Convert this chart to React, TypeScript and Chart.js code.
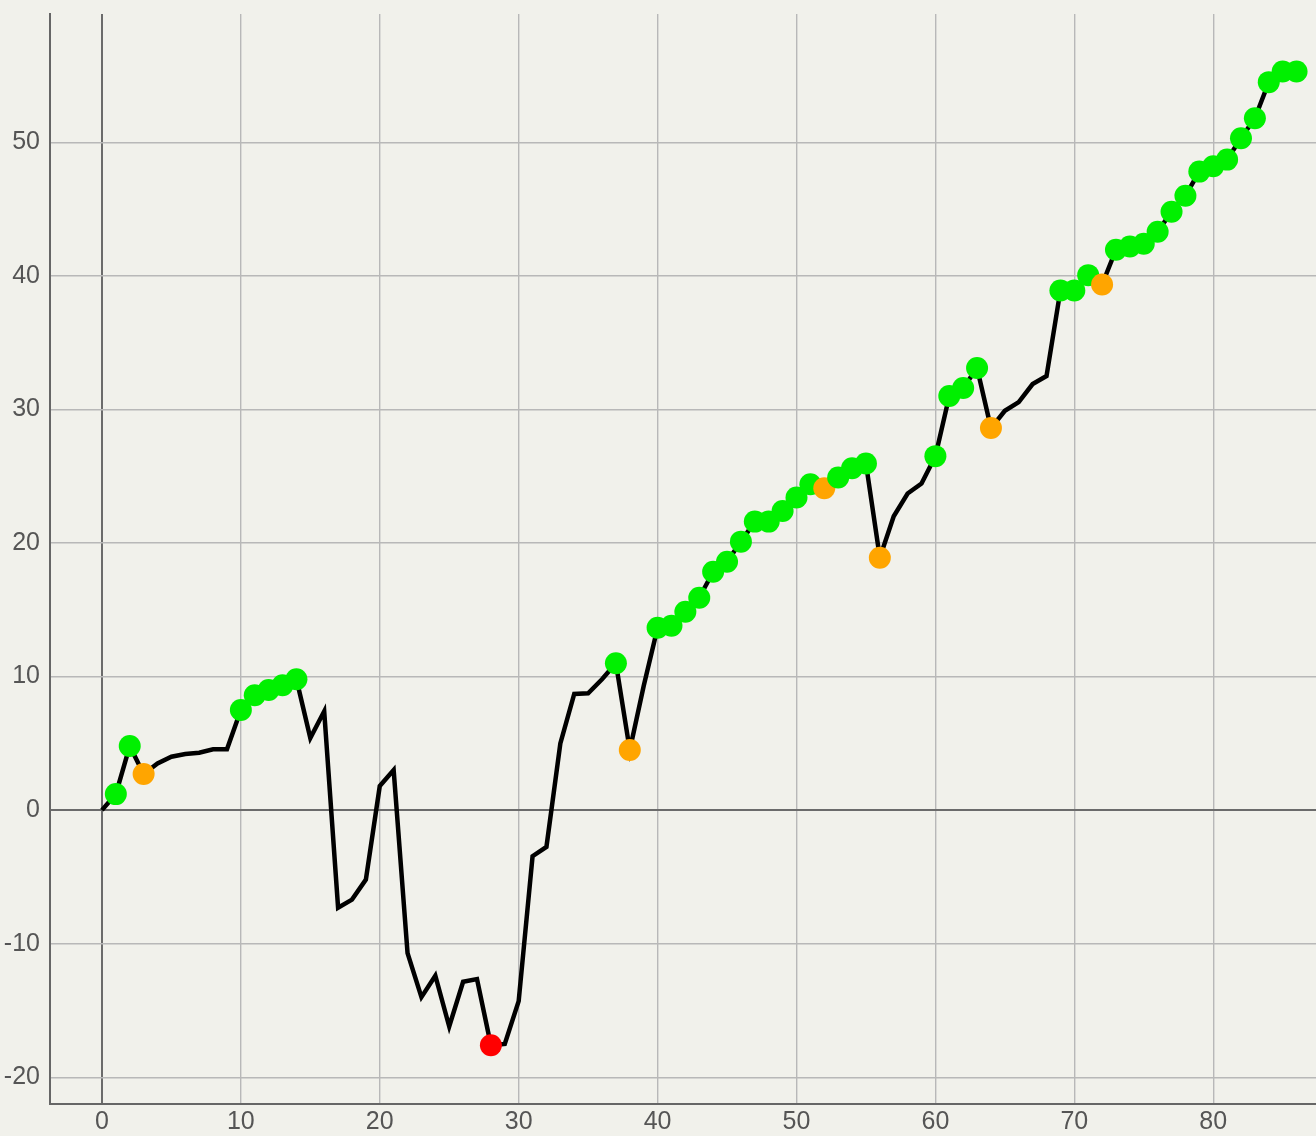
import React, { useEffect, useRef } from "react";
import { Chart, registerables } from "chart.js";

Chart.register(...registerables);

// values, one per step (x = 0, 1, 2, ...)
const values = [
    0, 1.2, 4.8, 2.7, 3.5, 4.0, 4.2, 4.3, 4.55, 4.55,
    7.5, 8.6, 9.0, 9.35, 9.8, 5.4, 7.4, -7.3, -6.7, -5.2,
    1.8, 3.0, -10.7, -14.0, -12.4, -16.2, -12.85, -12.65, -17.6, -17.5,
    -14.3, -3.45, -2.75, 5.0, 8.7, 8.75, 9.8, 11.0, 4.5, 9.3,
    13.65, 13.8, 14.85, 15.9, 17.85, 18.6, 20.1, 21.6, 21.6, 22.4,
    23.4, 24.4, 24.1, 24.9, 25.6, 25.95, 18.9, 22.0, 23.7, 24.45,
    26.5, 31.0, 31.6, 33.1, 28.6, 29.9, 30.55, 31.9, 32.5, 38.9,
    38.9, 40.05, 39.35, 41.95, 42.2, 42.4, 43.3, 44.8, 46.0, 47.8,
    48.2, 48.7, 50.3, 51.8, 54.5, 55.3, 55.3,
];

// marker per step: g = green, o = orange, r = red, "" = none
const markers = [
    "", "g", "g", "o", "", "", "", "", "", "",
    "g", "g", "g", "g", "g", "", "", "", "", "",
    "", "", "", "", "", "", "", "", "r", "",
    "", "", "", "", "", "", "", "g", "o", "",
    "g", "g", "g", "g", "g", "g", "g", "g", "g", "g",
    "g", "g", "o", "g", "g", "g", "o", "", "", "",
    "g", "g", "g", "g", "o", "", "", "", "", "g",
    "g", "g", "o", "g", "g", "g", "g", "g", "g", "g",
    "g", "g", "g", "g", "g", "g", "g",
];

const xTicks = [0, 10, 20, 30, 40, 50, 60, 70, 80];
const yTicks = [-20, -10, 0, 10, 20, 30, 40, 50];

const markerColors: Record<string, string> = {
    g: "#00f000",
    o: "#ffa500",
    r: "#ff0000",
    "": "rgba(0,0,0,0)",
};

// drop the label overflow padding so the plot area sits where the reference has it
const noPadding = (s: any) => {
    s.paddingTop = 0;
    s.paddingBottom = 0;
    s.paddingLeft = 0;
    s.paddingRight = 0;
};

const App = () => {
    const chartRef = useRef<HTMLCanvasElement | null>(null);

    useEffect(() => {
        document.body.style.margin = "0";
        if (!chartRef.current) return;
        const ctx = chartRef.current.getContext("2d");
        if (!ctx) return;

        const font = { family: "'Liberation Sans', Arial, sans-serif", size: 25 };
        const gridColor = (c: any) =>
            c.tick && c.tick.value === 0 ? "#6b6b6b" : "#b8b8b8";
        const gridWidth = (c: any) => (c.tick && c.tick.value === 0 ? 2 : 1.4);

        const chart = new Chart(ctx, {
            type: "line",
            data: {
                datasets: [
                    {
                        data: values.map((v, i) => ({ x: i, y: v })),
                        borderColor: "#000",
                        borderWidth: 4.5,
                        pointRadius: markers.map((m) => (m ? 11 : 0)),
                        pointBackgroundColor: markers.map((m) => markerColors[m]),
                        pointBorderWidth: 0,
                        tension: 0,
                    },
                ],
            },
            options: {
                animation: false,
                responsive: false,
                devicePixelRatio: 1,
                layout: {
                    autoPadding: false,
                    padding: { top: 14, right: 0, left: 0, bottom: 0 },
                },
                plugins: {
                    legend: { display: false },
                    tooltip: { enabled: false },
                },
                scales: {
                    x: {
                        type: "linear",
                        min: -3.74,
                        max: 87.4,
                        afterBuildTicks: (s: any) => {
                            s.ticks = xTicks.map((v) => ({ value: v }));
                        },
                        afterFit: (s: any) => {
                            s.height = 32;
                            noPadding(s);
                        },
                        grid: { color: gridColor, lineWidth: gridWidth, drawTicks: false },
                        border: { color: "#666", width: 2 },
                        ticks: { font, color: "#555", padding: 3, maxRotation: 0 },
                    },
                    y: {
                        type: "linear",
                        min: -22,
                        max: 59.6,
                        afterBuildTicks: (s: any) => {
                            s.ticks = yTicks.map((v) => ({ value: v }));
                        },
                        afterFit: (s: any) => {
                            s.width = 50;
                            noPadding(s);
                        },
                        grid: { color: gridColor, lineWidth: gridWidth, drawTicks: false },
                        border: { color: "#666", width: 2 },
                        ticks: { font, color: "#555", padding: 10 },
                    },
                },
            },
        });

        return () => {
            chart.destroy();
        };
    }, []);

    return (
        <div style={{ width: 1316, height: 1136, background: "#f1f1eb" }}>
            <canvas ref={chartRef} width={1316} height={1136} style={{ display: "block" }}></canvas>
        </div>
    );
};

export default App;
